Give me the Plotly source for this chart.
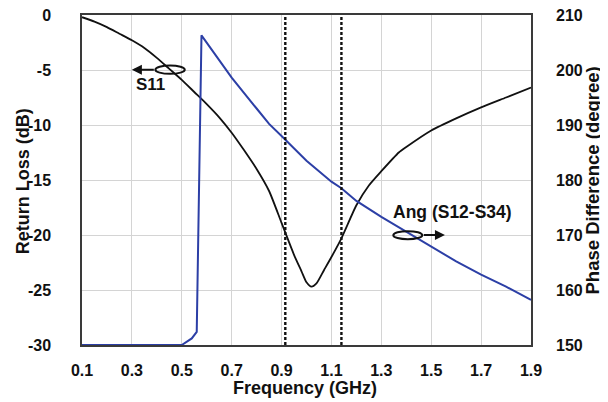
import plotly.graph_objects as go

# S11 return loss (dB) vs frequency (GHz)
s11_freq = [0.1, 0.15, 0.2, 0.25, 0.3, 0.35, 0.4, 0.45, 0.5, 0.55, 0.6, 0.65, 0.7, 0.75, 0.8,
            0.85, 0.9, 0.95, 0.98, 1.0, 1.02, 1.04, 1.07, 1.1, 1.14, 1.2, 1.25, 1.3, 1.37, 1.4,
            1.5, 1.6, 1.7, 1.8, 1.9]
s11_db = [-0.2, -0.6, -1.1, -1.7, -2.3, -3.0, -3.9, -4.9, -5.9, -7.0, -8.1, -9.3, -10.7, -12.3, -14.0,
          -16.0, -18.9, -21.8, -23.3, -24.3, -24.7, -24.4, -23.2, -22.0, -20.3, -17.3, -15.5, -14.2, -12.5, -12.0,
          -10.5, -9.4, -8.4, -7.5, -6.6]

# Phase difference Ang(S12-S34) (degree)
ang_freq = [0.1, 0.3, 0.5, 0.54, 0.56, 0.579, 0.6, 0.7, 0.8, 0.85, 0.9, 1.0, 1.05, 1.1, 1.14, 1.2,
            1.3, 1.42, 1.5, 1.6, 1.7, 1.8, 1.9]
ang_deg = [150, 150, 150, 151.2, 152.4, 206.3, 205.0, 198.6, 193.0, 190.2, 188.0, 183.5, 181.6, 179.7, 178.5, 176.2,
           173.3, 170.0, 167.8, 165.2, 162.8, 160.6, 158.2]

marker_freqs = [0.915, 1.14]
x_ticks = [0.1, 0.3, 0.5, 0.7, 0.9, 1.1, 1.3, 1.5, 1.7, 1.9]
y_ticks = [0, -5, -10, -15, -20, -25, -30]
y2_ticks = [150, 160, 170, 180, 190, 200, 210]

FONT = "Liberation Sans"
INK = "#111111"

fig = go.Figure()
fig.add_trace(go.Scatter(x=s11_freq, y=s11_db, mode="lines",
                         line=dict(color=INK, width=1.8, shape="spline", smoothing=0.6),
                         name="S11", showlegend=False))
fig.add_trace(go.Scatter(x=ang_freq, y=ang_deg, mode="lines", line=dict(color="#2c3fa6", width=2),
                         name="Ang (S12-S34)", yaxis="y2", showlegend=False))

for f in marker_freqs:
    fig.add_shape(type="line", x0=f, x1=f, y0=-30, y1=0, xref="x", yref="y",
                  line=dict(color=INK, width=2.4, dash="3px,2px"))

# ellipse markers
fig.add_shape(type="circle", xref="x", yref="y", x0=0.394, x1=0.512, y0=-5.35, y1=-4.6,
              line=dict(color=INK, width=2))
fig.add_shape(type="circle", xref="x", yref="y", x0=1.348, x1=1.464, y0=-20.38, y1=-19.65,
              line=dict(color=INK, width=2))

fig.add_annotation(x=0.30, y=-4.98, ax=0.394, ay=-4.98, xref="x", yref="y", axref="x", ayref="y",
                   showarrow=True, arrowhead=2, arrowsize=1, arrowwidth=2, arrowcolor=INK, text="")
fig.add_annotation(x=1.555, y=-20.0, ax=1.464, ay=-20.0, xref="x", yref="y", axref="x", ayref="y",
                   showarrow=True, arrowhead=2, arrowsize=1, arrowwidth=2, arrowcolor=INK, text="")
fig.add_annotation(x=0.376, y=-6.3, xref="x", yref="y", text="<b>S11</b>", showarrow=False,
                   font=dict(family=FONT, size=17, color=INK))
fig.add_annotation(x=1.584, y=-17.9, xref="x", yref="y", text="<b>Ang (S12-S34)</b>", showarrow=False,
                   font=dict(family=FONT, size=17.5, color=INK))

# axis titles
fig.add_annotation(x=0.497, y=-0.13, xref="paper", yref="paper", text="<b>Frequency (GHz)</b>",
                   showarrow=False, font=dict(family=FONT, size=18, color=INK),
                   xanchor="center", yanchor="middle")
fig.add_annotation(x=-0.131, y=0.497, xref="paper", yref="paper", text="<b>Return Loss (dB)</b>",
                   showarrow=False, textangle=-90, font=dict(family=FONT, size=18, color=INK),
                   xanchor="center", yanchor="middle")
fig.add_annotation(x=1.137, y=0.497, xref="paper", yref="paper", text="<b>Phase Difference (degree)</b>",
                   showarrow=False, textangle=-90, font=dict(family=FONT, size=18.5, color=INK),
                   xanchor="center", yanchor="middle")

axis_font = dict(family=FONT, size=16, color=INK)
fig.update_layout(
    width=600, height=394,
    margin=dict(l=74, r=77, t=7, b=57, autoexpand=False),
    paper_bgcolor="white", plot_bgcolor="white",
    font=dict(family=FONT, color=INK),
    xaxis=dict(range=[0.1, 1.9], tickvals=x_ticks, ticktext=[f"<b>{v:.1f}</b>" for v in x_ticks],
               showgrid=True, gridcolor="#d4d4d4", gridwidth=1, zeroline=False,
               showline=True, linecolor="#3a3a3a", linewidth=1.5, mirror=True, ticks="",
               tickfont=axis_font, ticklabelstandoff=10, automargin=False, ticklabeloverflow="allow"),
    yaxis=dict(range=[-30, 0], tickvals=y_ticks, ticktext=[f"<b>{v}</b>" for v in y_ticks],
               showgrid=True, gridcolor="#d4d4d4", gridwidth=1, zeroline=False,
               showline=True, linecolor="#3a3a3a", linewidth=1.5, mirror=True, ticks="",
               tickfont=axis_font, ticklabelstandoff=26, automargin=False, ticklabeloverflow="allow"),
    yaxis2=dict(range=[150, 210], tickvals=y2_ticks, ticktext=[f"<b>{v}</b>" for v in y2_ticks],
                overlaying="y", side="right", showgrid=False, zeroline=False, ticks="",
                tickfont=axis_font, ticklabelstandoff=24, automargin=False, ticklabeloverflow="allow"),
)

fig.write_html("out.html")
